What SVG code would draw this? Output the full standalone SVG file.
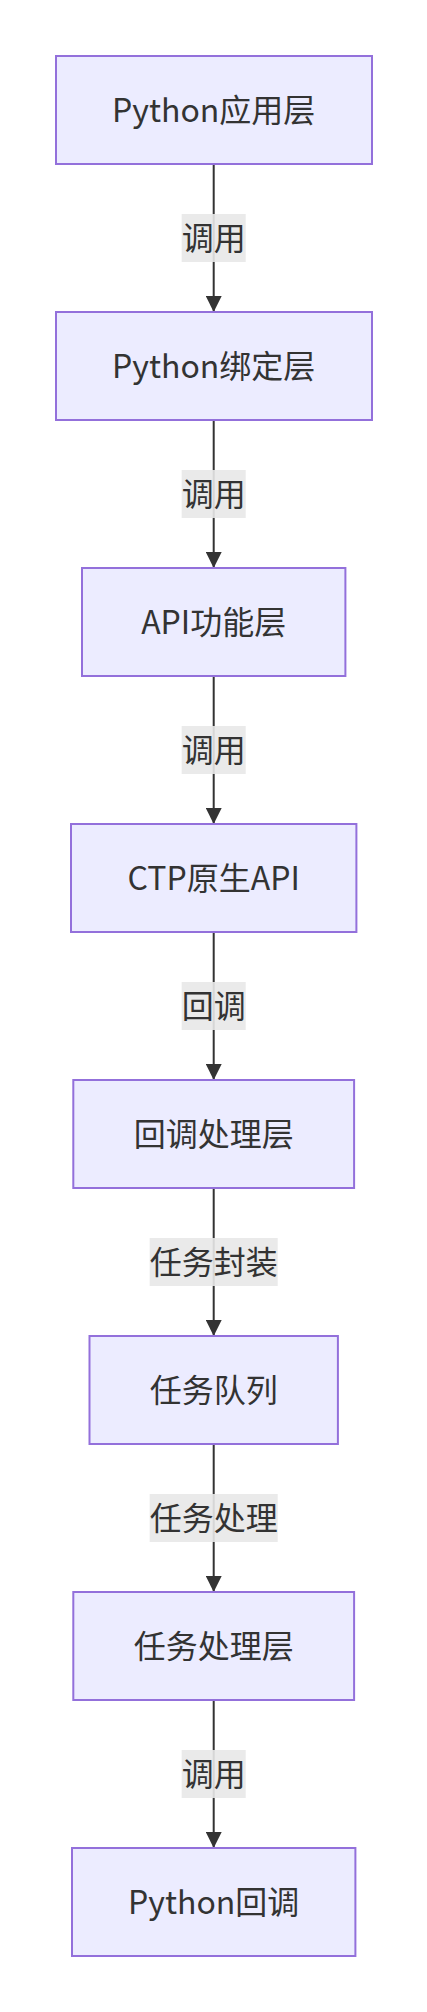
<svg xmlns="http://www.w3.org/2000/svg" width="427" height="2012" viewBox="0 0 427 2012">
<style>
.node rect{fill:#ECECFF;stroke:#9370DB;stroke-width:2}
.node text{fill:#333333;font-family:"Noto Sans CJK SC","Noto Sans",sans-serif;font-size:32px;text-anchor:middle}
.edge{stroke:#333333;stroke-width:2;fill:none;marker-end:url(#arrow)}
.lbl rect{fill:#E8E8E8;opacity:0.9}
.lbl text{fill:#333333;font-family:"Noto Sans CJK SC","Noto Sans",sans-serif;font-size:32px;text-anchor:middle}
</style>
<defs>
<marker id="arrow" viewBox="0 0 10 10" refX="10" refY="5" markerUnits="userSpaceOnUse" markerWidth="16" markerHeight="16" orient="auto">
<path d="M0,0 L10,5 L0,10 z" fill="#333333"/>
</marker>
</defs>
<rect width="427" height="2012" fill="#ffffff"/>
<g id="connectors">
<path class="edge" d="M213.7,164 L213.7,312"/>
<path class="edge" d="M213.7,420 L213.7,568"/>
<path class="edge" d="M213.7,676 L213.7,824"/>
<path class="edge" d="M213.7,932 L213.7,1080"/>
<path class="edge" d="M213.7,1188 L213.7,1336"/>
<path class="edge" d="M213.7,1444 L213.7,1592"/>
<path class="edge" d="M213.7,1700 L213.7,1848"/>
<g class="lbl"><rect x="181.7" y="214" width="64" height="48"/><text x="213.7" y="249.5">调用</text></g>
<g class="lbl"><rect x="181.7" y="470" width="64" height="48"/><text x="213.7" y="505.5">调用</text></g>
<g class="lbl"><rect x="181.7" y="726" width="64" height="48"/><text x="213.7" y="761.5">调用</text></g>
<g class="lbl"><rect x="181.7" y="982" width="64" height="48"/><text x="213.7" y="1017.5">回调</text></g>
<g class="lbl"><rect x="149.7" y="1238" width="128" height="48"/><text x="213.7" y="1273.5">任务封装</text></g>
<g class="lbl"><rect x="149.7" y="1494" width="128" height="48"/><text x="213.7" y="1529.5">任务处理</text></g>
<g class="lbl"><rect x="181.7" y="1750" width="64" height="48"/><text x="213.7" y="1785.5">调用</text></g>
</g>
<g id="n1" class="node"><rect x="56" y="56" width="316" height="108"/><text x="213.7" y="121.5">Python应用层</text></g>
<g id="n2" class="node"><rect x="56" y="312" width="316" height="108"/><text x="213.7" y="377.5">Python绑定层</text></g>
<g id="n3" class="node"><rect x="82" y="568" width="263.4" height="108"/><text x="213.7" y="633.5">API功能层</text></g>
<g id="n4" class="node"><rect x="71" y="824" width="285.4" height="108"/><text x="213.7" y="889.5">CTP原生API</text></g>
<g id="n5" class="node"><rect x="73.3" y="1080" width="280.8" height="108"/><text x="213.7" y="1145.5">回调处理层</text></g>
<g id="n6" class="node"><rect x="89.5" y="1336" width="248.4" height="108"/><text x="213.7" y="1401.5">任务队列</text></g>
<g id="n7" class="node"><rect x="73.3" y="1592" width="280.8" height="108"/><text x="213.7" y="1657.5">任务处理层</text></g>
<g id="n8" class="node"><rect x="72" y="1848" width="283.4" height="108"/><text x="213.7" y="1913.5">Python回调</text></g>
</svg>
